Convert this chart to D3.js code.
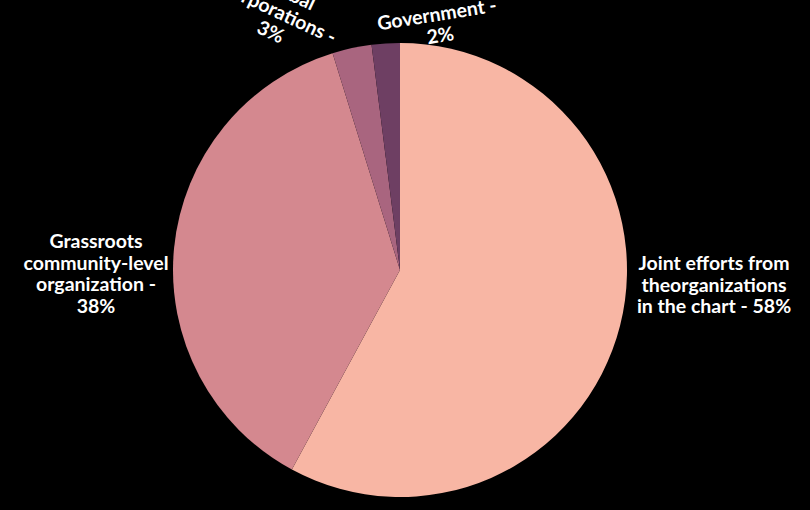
<!DOCTYPE html>
<html><head><meta charset="utf-8">
<script src="https://cdn.jsdelivr.net/npm/d3@7"></script>
<style>html,body{margin:0;padding:0;background:#000}</style>
</head><body>
<svg id="c" width="810" height="510"></svg>
<script>
const categories = ["Joint efforts from the organizations in the chart", "Grassroots community-level organization", "Global corporations", "Government"];
const values = [57.9, 37.3, 2.8, 2.0];
const labelLines = [
  ["Joint efforts from", "theorganizations", "in the chart - 58%"],
  ["Grassroots", "community-level", "organization -", "38%"],
  ["Global", "corporations -", "3%"],
  ["Government -", "2%"]
];
const colors = ["#F8B6A4", "#D4888F", "#A9657F", "#6E3F63"];

const W = 810, H = 510;
const cx = 400, cy = 270, R = 227;
// label anchors: [x, y of first baseline, rotation]
const labelPos = [[714, 270, 0], [96, 248, 0], [286, -1, 25], [438, 21, -9]];
const lineH = 21.5;

const svg = d3.select("#c");
svg.append("rect").attr("width", W).attr("height", H).attr("fill", "#000");

const pie = d3.pie().sort(null).value(d => d.v);
const data = categories.map((c, i) => ({c, v: values[i], i}));
const arcs = pie(data);
const arc = d3.arc().innerRadius(0).outerRadius(R);

const g = svg.append("g").attr("transform", `translate(${cx},${cy})`);
g.selectAll("path").data(arcs).join("path")
  .attr("d", arc)
  .attr("fill", d => colors[d.data.i]);

const lg = svg.append("g");
labelLines.forEach((lines, i) => {
  const [x, y, r] = labelPos[i];
  const t = lg.append("text")
    .attr("transform", `translate(${x},${y}) rotate(${r})`)
    .attr("text-anchor", "middle")
    .attr("fill", "#fff")
    .style("font-family", "Lato, 'Open Sans', sans-serif")
    .style("font-weight", 700)
    .style("font-size", "19.5px");
  lines.forEach((l, j) => {
    t.append("tspan").attr("x", 0).attr("y", j * lineH).text(l);
  });
});
</script>
</body></html>
